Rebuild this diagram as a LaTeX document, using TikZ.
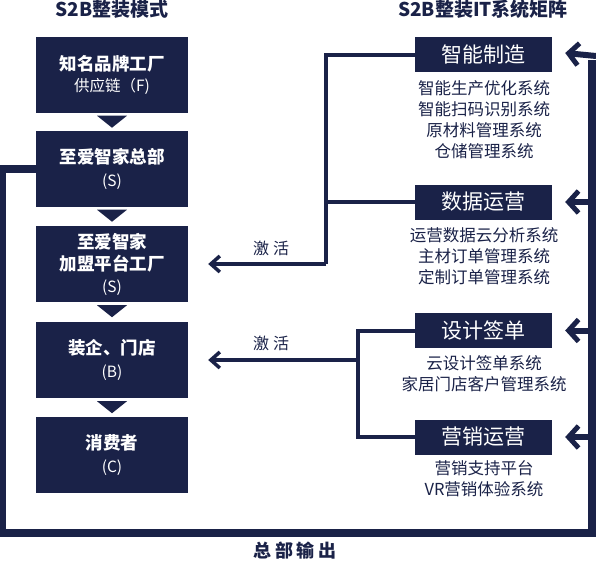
\documentclass[tikz,border=0pt]{standalone}
\usepackage{fontspec}
\setmainfont{Noto Sans CJK SC}
\usetikzlibrary{arrows.meta,calc}
\definecolor{navy}{RGB}{26,34,72}
\newcommand\hdfont{\fontsize{17.5}{22}\selectfont\bfseries}
\newcommand\sbfont{\fontsize{15.5}{22}\selectfont\mdseries}
\begin{document}
\begin{tikzpicture}[x=1pt,y=-1pt,
  lbox/.style={fill=navy,text=white,minimum width=152pt,minimum height=76pt,inner sep=0pt,align=center,font=\fontsize{17.5}{22}\selectfont},
  rbox/.style={fill=navy,text=white,minimum width=137pt,minimum height=35pt,inner sep=0pt,font=\fontsize{21}{24}\selectfont},
  items/.style={text=navy,align=center,inner sep=0pt,font=\fontsize{16.5}{21}\selectfont},
  ttl/.style={text=navy,font=\fontsize{19}{22}\selectfont\bfseries,inner sep=0pt},
  tri/.style={fill=navy},
  bracket/.style={draw=navy,line width=4pt},
  loopline/.style={draw=navy,line width=8pt},
  larrow/.style={-{Straight Barb[length=9pt,width=16pt,line width=3.5pt]}},
  rarrow/.style={draw=navy,line width=6pt,-{Straight Barb[length=10pt,width=22pt,line width=5pt]}},
  lab/.style={text=navy,font=\fontsize{16}{20}\selectfont,inner sep=0pt}
]
\useasboundingbox (0,0) rectangle (596,560);
\fill[white] (0,0) rectangle (596,560);

% titles
\node[ttl] (t1) at (112,9) {S2B整装模式};
\node[ttl] (t2) at (483,9) {S2B整装IT系统矩阵};

% left column
\node[lbox] (b1) at (112,74.5) {{\hdfont 知名品牌工厂}\\[-1pt]{\sbfont 供应链（F)}};
\node[lbox] (b2) at (112,168.5) {{\hdfont 至爱智家总部}\\[1pt]{\sbfont (S)}};
\node[lbox] (b3) at (112,264) {{\hdfont 至爱智家}\\{\hdfont 加盟平台工厂}\\{\sbfont (S)}};
\node[lbox] (b4) at (112,360) {{\hdfont 装企、门店}\\[1pt]{\sbfont (B)}};
\node[lbox] (b5) at (112,455) {{\hdfont 消费者}\\[1pt]{\sbfont (C)}};

\foreach \a in {b1,b2,b3,b4}{
  \fill[tri] ($(\a.south)+(-15,3)$) -- ($(\a.south)+(15,3)$) -- ($(\a.south)+(0,15)$) -- cycle;
}

% right column
\node[rbox] (r1) at (483.5,54.5) {智能制造};
\node[rbox] (r2) at (483.5,202) {数据运营};
\node[rbox] (r3) at (483.5,330.5) {设计签单};
\node[rbox] (r4) at (483.5,437) {营销运营};

\node[items] (i1) at (484,119.5) {智能生产优化系统\\智能扫码识别系统\\原材料管理系统\\仓储管理系统};
\node[items] (i2) at (484,256.5) {运营数据云分析系统\\主材订单管理系统\\定制订单管理系统};
\node[items] (i3) at (484,374) {云设计签单系统\\家居门店客户管理系统};
\node[items] (i4) at (484,478.5) {营销支持平台\\VR营销体验系统};

% brackets with activation arrows
\coordinate (j1) at (326,264);
\coordinate (j2) at (358,360);
\draw[bracket,line join=miter] (r1.west) -| (j1);
\draw[bracket] (r2.west) -- (r2.west -| j1);
\draw[bracket,larrow] (j1) -- ([xshift=20pt]b3.east);
\draw[bracket,line join=miter] (r3.west) -| (r3.west -| j2) |- (r4.west);
\draw[bracket,larrow] (j2) -- ([xshift=20pt]b4.east);
\node[lab] (a1) at (271,248) {激\hspace{4pt}活};
\node[lab] (a2) at (271,343) {激\hspace{4pt}活};

% output loop
\coordinate (c1) at (2,168.5);
\coordinate (c2) at (2,533);
\coordinate (c3) at (592,533);
\coordinate (c4) at (592,56);
\draw[loopline,line join=miter] (b2.west) -- (c1) -- (c2) -- (c3) -- ([yshift=-4pt]c4);
\draw[rarrow] ([xshift=4pt]c4) -- ([xshift=13pt,yshift=1.5pt]r1.east);
\draw[rarrow] (c4 |- r2.east) -- ([xshift=13pt]r2.east);
\draw[rarrow] (c4 |- r3.east) -- ([xshift=13pt]r3.east);
\draw[rarrow] (c4 |- r4.east) -- ([xshift=13pt]r4.east);

\node[ttl,font=\fontsize{18}{22}\selectfont\bfseries] (t3) at (295,551) {总\hspace{4pt}部\hspace{4pt}输\hspace{4pt}出};
\end{tikzpicture}
\end{document}
